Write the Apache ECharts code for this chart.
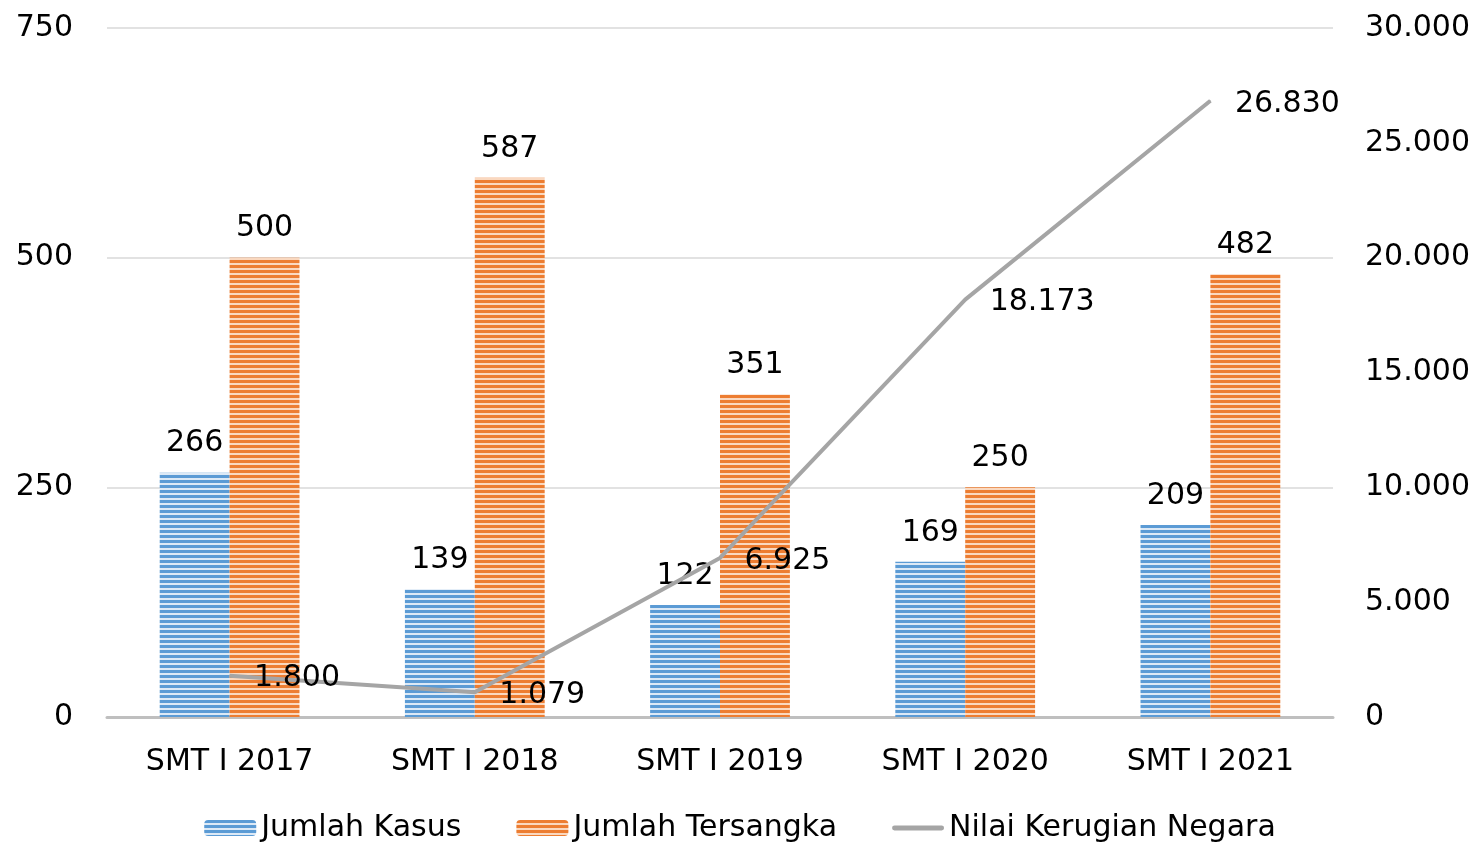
<!DOCTYPE html>
<html>
<head>
<meta charset="utf-8">
<script src="https://cdn.jsdelivr.net/npm/echarts@6/dist/echarts.min.js"></script>
<style>
  html, body { margin: 0; padding: 0; background: #fff; }
  #chart { width: 1480px; height: 842px; }
</style>
</head>
<body>
<div id="chart"></div>
<script>
const categories = ['SMT I 2017', 'SMT I 2018', 'SMT I 2019', 'SMT I 2020', 'SMT I 2021']
const jumlahKasus = [266, 139, 122, 169, 209]
const jumlahTersangka = [500, 587, 351, 250, 482]
const nilaiKerugian = [1800, 1079, 6925, 18173, 26830]

const FONT = 'DejaVu Sans'
const FS = 30

// horizontal stripe fill like the office chart
function stripes(dark, light) {
  const c = document.createElement('canvas')
  c.width = 4
  c.height = 5
  const ctx = c.getContext('2d')
  ctx.fillStyle = dark
  ctx.fillRect(0, 0, 4, 5)
  ctx.fillStyle = light
  ctx.fillRect(0, 3, 4, 2)
  return { image: c, repeat: 'repeat' }
}

const dots = v => String(v).replace(/\B(?=(\d{3})+(?!\d))/g, '.')

const chart = echarts.init(document.getElementById('chart'))
chart.setOption({
  backgroundColor: '#FFFFFF',
  animation: false,
  textStyle: { fontFamily: FONT, color: '#000' },
  grid: { left: 107, right: 147, top: 28, bottom: 125 },
  legend: {
    top: 808,
    left: 'center',
    itemWidth: 52,
    itemHeight: 16,
    itemGap: 55,
    textStyle: { fontSize: FS, color: '#000', fontFamily: FONT },
    data: [
      'Jumlah Kasus',
      'Jumlah Tersangka',
      { name: 'Nilai Kerugian Negara', icon: 'path://M2,0 L50,0 A2.5,2.5 0 0 1 50,5 L2,5 A2.5,2.5 0 0 1 2,0 Z', itemStyle: { color: '#A5A5A5' } }
    ]
  },
  xAxis: {
    type: 'category',
    data: categories,
    axisLine: { lineStyle: { color: '#BFBFBF', width: 3 } },
    axisTick: { show: false },
    axisLabel: { fontSize: FS, color: '#000', margin: 30, fontFamily: FONT }
  },
  yAxis: [
    {
      type: 'value', min: 0, max: 750, interval: 250,
      axisLine: { show: false }, axisTick: { show: false },
      splitLine: { lineStyle: { color: '#D9D9D9', width: 1.5 } },
      axisLabel: { fontSize: FS, color: '#000', margin: 34, fontFamily: FONT, padding: [4, 0, 0, 0] }
    },
    {
      type: 'value', min: 0, max: 30000, interval: 5000,
      axisLine: { show: false }, axisTick: { show: false },
      splitLine: { show: false },
      axisLabel: { fontSize: FS, color: '#000', margin: 32, fontFamily: FONT, formatter: dots, padding: [4, 0, 0, 0] }
    }
  ],
  series: [
    {
      name: 'Jumlah Kasus',
      type: 'bar',
      data: jumlahKasus,
      barGap: '0%',
      barCategoryGap: '43%',
      itemStyle: { color: stripes('#5B9BD5', '#DCE9F6') },
      label: { show: true, position: 'top', distance: 14, fontSize: FS, color: '#000', fontFamily: FONT }
    },
    {
      name: 'Jumlah Tersangka',
      type: 'bar',
      data: jumlahTersangka,
      itemStyle: { color: stripes('#ED7D31', '#FAD8BF') },
      label: { show: true, position: 'top', distance: 14, fontSize: FS, color: '#000', fontFamily: FONT }
    },
    {
      name: 'Nilai Kerugian Negara',
      type: 'line',
      yAxisIndex: 1,
      data: nilaiKerugian,
      symbol: 'circle',
      symbolSize: 1,
      showSymbol: true,
      lineStyle: { color: '#A5A5A5', width: 4 },
      itemStyle: { color: '#A5A5A5' },
      label: {
        show: true, position: 'right', distance: 24, offset: [0, 3],
        fontSize: FS, color: '#000', fontFamily: FONT,
        formatter: p => dots(p.value)
      },
      z: 3
    }
  ]
})
</script>
</body>
</html>
